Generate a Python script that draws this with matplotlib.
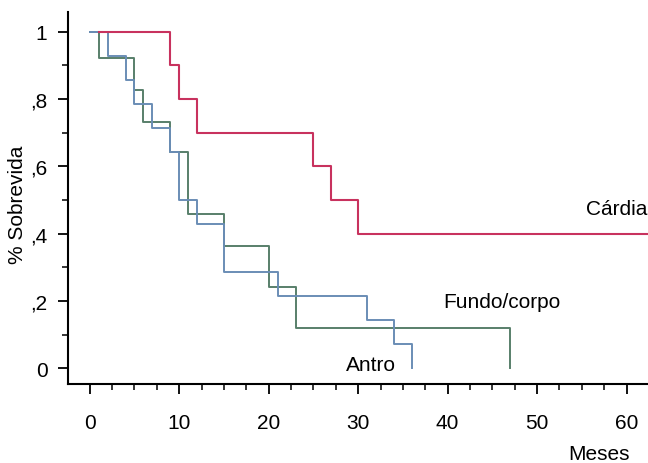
import matplotlib.pyplot as plt
from matplotlib.ticker import MultipleLocator

plt.rcParams['font.family'] = ['Liberation Sans', 'DejaVu Sans']

# Kaplan-Meier survival by tumour site (months, survival fraction)
cardia_months = [1, 9, 10, 12, 25, 27, 30, 64]
cardia_surv = [1.0, 0.9, 0.8, 0.7, 0.6, 0.5, 0.4, 0.4]

antro_months = [0, 2, 4, 5, 7, 9, 10, 12, 15, 21, 31, 34, 36]
antro_surv = [1.0, 0.929, 0.857, 0.786, 0.714, 0.643, 0.5, 0.429, 0.286, 0.214, 0.143, 0.071, 0.0]

fundo_months = [0, 1, 5, 6, 9, 11, 15, 20, 23, 47]
fundo_surv = [1.0, 0.923, 0.826, 0.731, 0.643, 0.458, 0.363, 0.241, 0.119, 0.0]

y_ticks = [0, 0.2, 0.4, 0.6, 0.8, 1.0]
y_labels = ['0', ',2', ',4', ',6', ',8', '1']
x_ticks = [0, 10, 20, 30, 40, 50, 60]

fig = plt.figure(figsize=(6.48, 4.64), dpi=100)
ax = fig.add_axes([0.1054, 0.170, 0.95, 0.802])

ax.step(fundo_months, fundo_surv, where='post', color='#587f6a', lw=1.4)
ax.step(antro_months, antro_surv, where='post', color='#6a8db5', lw=1.4)
ax.step(cardia_months, cardia_surv, where='post', color='#c8325e', lw=1.5)

ax.set_xlim(-2.4, 62.4 * 0.95 / 0.8946 + (-2.4) * (1 - 0.95 / 0.8946))
ax.set_ylim(-0.047, 1.059)

ax.spines['top'].set_visible(False)
ax.spines['right'].set_visible(False)
for s in ('left', 'bottom'):
    ax.spines[s].set_linewidth(1.5)

ax.set_xticks(x_ticks)
ax.set_xticklabels([str(v) for v in x_ticks])
ax.xaxis.set_minor_locator(MultipleLocator(2.5))
ax.set_yticks(y_ticks)
ax.set_yticklabels(y_labels)
ax.yaxis.set_minor_locator(MultipleLocator(0.1))

ax.tick_params(axis='x', which='major', length=7, width=1.3, labelsize=15, pad=14)
ax.tick_params(axis='x', which='minor', length=4, width=1.1)
ax.tick_params(axis='y', which='major', length=7, width=1.3, labelsize=15, pad=8)
ax.tick_params(axis='y', which='minor', length=4, width=1.1)

ax.text(55.5, 0.475, 'Cárdia', fontsize=15, ha='left', va='center')
ax.text(39.5, 0.20, 'Fundo/corpo', fontsize=15, ha='left', va='center')
ax.text(28.6, 0.01, 'Antro', fontsize=15, ha='left', va='center')

fig.text(18 / 648, 1 - 205 / 464, '% Sobrevida', rotation=90, fontsize=15,
         ha='center', va='center')
fig.text(599 / 648, 1 - 455 / 464, 'Meses', fontsize=15, ha='center', va='center')

fig.savefig('out.png', dpi=100)
